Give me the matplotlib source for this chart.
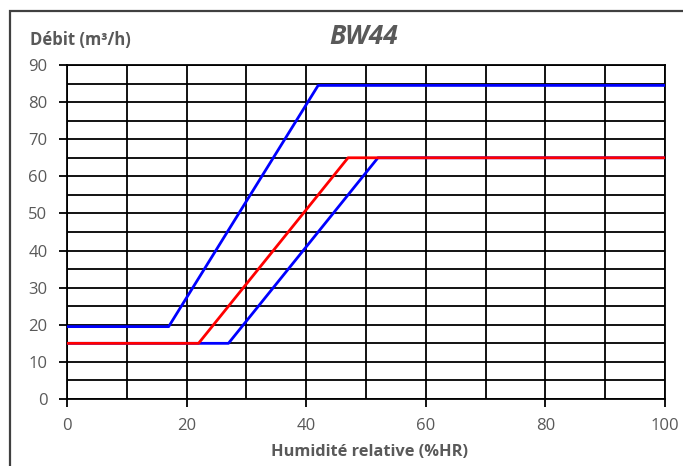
import matplotlib.pyplot as plt
from matplotlib.patches import Rectangle

# BW44 airflow vs relative humidity
hr_high = [0, 17, 42, 100]
debit_high = [19.5, 19.5, 84.5, 84.5]

hr_low = [0, 27, 52, 100]
debit_low = [15, 15, 65, 65]

hr_red = [0, 22, 47, 100]
debit_red = [15, 15, 65, 65]

GREY = "#595959"


def plot():
  plt.rcParams['font.family'] = ['Open Sans', 'DejaVu Sans']
  fig = plt.figure(figsize=(6.83, 4.66), dpi=100)
  ax = fig.add_axes([0.0981, 0.1438, 0.8755, 0.7167])

  # frame of the chart area, open to the right and bottom like the source
  fig.patches.append(Rectangle((10 / 683, -0.1), 1.2, 1.1 - 11 / 466,
                               transform=fig.transFigure, fill=False,
                               edgecolor="#404040", linewidth=1.6))

  ax.plot(hr_low, debit_low, color="#0000ff", lw=2, zorder=3)
  ax.plot(hr_red, debit_red, color="#ff0000", lw=2, zorder=4)
  ax.plot(hr_high, debit_high, color="#0000ff", lw=2, zorder=5)

  ax.set_xlim(0, 100)
  ax.set_ylim(0, 90)
  ax.set_xticks(range(0, 101, 20))
  ax.set_xticks(range(10, 100, 20), minor=True)
  ax.set_yticks(range(0, 91, 10))
  ax.set_yticks(range(5, 90, 10), minor=True)
  ax.grid(True, which="both", color="black", lw=1.3, zorder=1)
  ax.set_axisbelow(True)
  ax.tick_params(which="major", length=6, width=1.3, color="black",
                 labelsize=12, labelcolor=GREY, pad=8)
  ax.tick_params(which="minor", length=0)
  for s in ax.spines.values():
    s.set_linewidth(1.3)
    s.set_color("black")

  fig.text(30 / 683, 1 - 40 / 466, "Débit (m³/h)", fontsize=12,
           fontweight="bold", color=GREY, va="center", ha="left")
  fig.text(364 / 683, 1 - 37 / 466, "BW44", fontsize=19, fontweight="bold",
           fontstyle="italic", color=GREY, va="center", ha="center")
  fig.text(369 / 683, 1 - 452 / 466, "Humidité relative (%HR)", fontsize=11.8,
           fontweight="bold", color=GREY, va="center", ha="center")

  fig.savefig("out.png", dpi=100)


def main():
  plot()


if __name__ == "__main__":
  main()
